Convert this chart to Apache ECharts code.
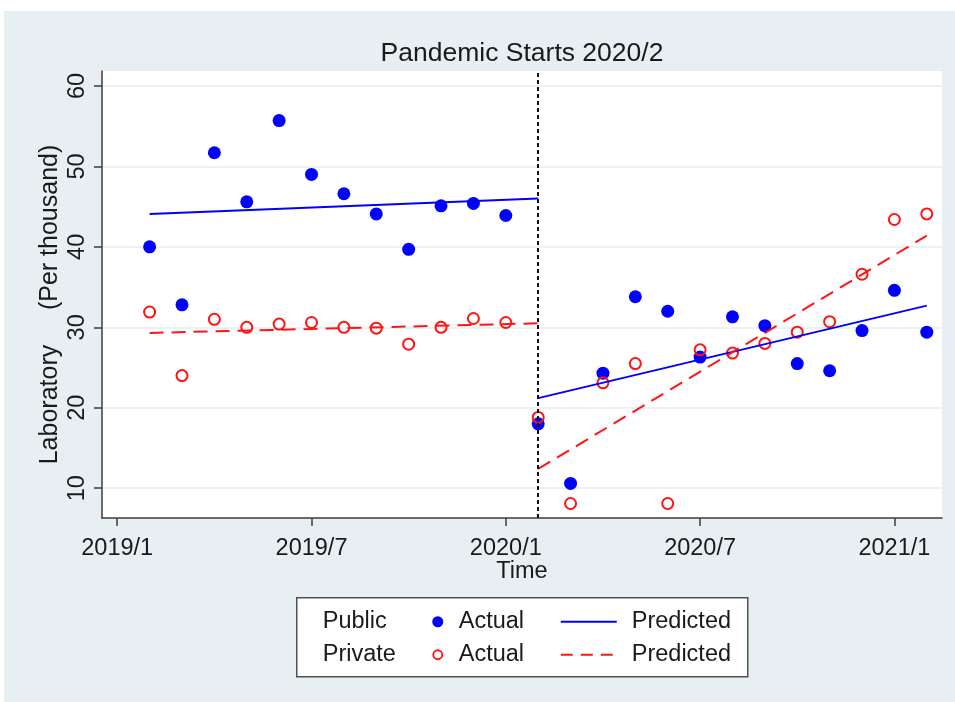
<!DOCTYPE html>
<html>
<head>
<meta charset="utf-8">
<title>Pandemic Starts 2020/2</title>
<script src="https://cdn.jsdelivr.net/npm/echarts@6/dist/echarts.min.js"></script>
<style>
  html, body { margin: 0; padding: 0; background: #fff; }
  #chart { width: 955px; height: 702px; }
</style>
</head>
<body>
<div id="chart"></div>
<script>
// monthly observations, 2019/2 .. 2021/2
const months = [
  "2019/2", "2019/3", "2019/4", "2019/5", "2019/6", "2019/7", "2019/8",
  "2019/9", "2019/10", "2019/11", "2019/12", "2020/1", "2020/2", "2020/3",
  "2020/4", "2020/5", "2020/6", "2020/7", "2020/8", "2020/9", "2020/10",
  "2020/11", "2020/12", "2021/1", "2021/2",
];
const publicActual = [
  40.0, 32.8, 51.7, 45.6, 55.7, 49.0, 46.6, 44.1, 39.7, 45.1, 45.4, 43.9,
  18.0, 10.6, 24.3, 33.8, 32.0, 26.3, 31.3, 30.2, 25.5, 24.6, 29.6, 34.6, 29.4,
];
const privateActual = [
  31.9, 24.0, 31.0, 30.0, 30.4, 30.6, 30.0, 29.9, 27.9, 30.0, 31.1, 30.6,
  18.8, 8.1, 23.1, 25.5, 8.1, 27.2, 26.8, 28.0, 29.4, 30.7, 36.6, 43.4, 44.1,
];

// fitted lines (segment endpoints) before / after the break
const prePeriod = ["2019/2", "2020/2"];
const postPeriod = ["2020/2", "2021/2"];
const publicPredPre = [44.1, 46.0];
const publicPredPost = [21.2, 32.7];
const privatePredPre = [29.3, 30.5];
const privatePredPost = [12.4, 41.4];

const pandemicStart = "2020/2";
const xTicks = ["2019/1", "2019/7", "2020/1", "2020/7", "2021/1"];
const yTicks = [10, 20, 30, 40, 50, 60];

const FONT = "'Liberation Sans', Arial, sans-serif";
const BLUE = "#0000ff";
const RED = "#ff1414";
const INK = "#1a1a1a";

// months counted from 2019/1
const monthIndex = (s) => {
  const [y, m] = s.split("/").map(Number);
  return (y - 2019) * 12 + (m - 1);
};
const pairs = (labels, values) => labels.map((l, i) => [monthIndex(l), values[i]]);
const tickLabel = {};
xTicks.forEach((t) => { tickLabel[monthIndex(t)] = t; });

const chartDom = document.getElementById("chart");
const myChart = echarts.init(chartDom);

const lineSeries = (name, labels, values, color, type) => ({
  name,
  type: "line",
  data: pairs(labels, values),
  showSymbol: false,
  symbol: "none",
  lineStyle: { color, width: 2, type },
  z: 4,
  silent: true,
});

const legendText = (x, y, text) => ({
  type: "text",
  x,
  y,
  style: { text, font: "23.5px " + FONT, fill: INK, textVerticalAlign: "middle" },
});

const option = {
  animation: false,
  textStyle: { fontFamily: FONT },
  graphic: [
    {
      type: "rect",
      z: -10,
      silent: true,
      shape: { x: 4, y: 11, width: 951, height: 691 },
      style: { fill: "#e8eff2" },
    },
    {
      type: "group",
      left: 296,
      top: 597,
      children: [
        {
          type: "rect",
          shape: { x: 0, y: 0, width: 451, height: 79 },
          style: { fill: "#fff", stroke: "#505050", lineWidth: 1.5 },
        },
        legendText(26, 24, "Public"),
        legendText(26, 57, "Private"),
        { type: "circle", shape: { cx: 141, cy: 24, r: 5.5 }, style: { fill: BLUE } },
        { type: "circle", shape: { cx: 141, cy: 57, r: 4.5 }, style: { fill: "none", stroke: RED, lineWidth: 1.8 } },
        legendText(162, 24, "Actual"),
        legendText(162, 57, "Actual"),
        { type: "line", shape: { x1: 264, y1: 24, x2: 320, y2: 24 }, style: { stroke: BLUE, lineWidth: 2 } },
        { type: "line", shape: { x1: 264, y1: 57, x2: 320, y2: 57 }, style: { stroke: RED, lineWidth: 2, lineDash: [12, 8] } },
        legendText(335, 24, "Predicted"),
        legendText(335, 57, "Predicted"),
      ],
    },
  ],
  title: {
    text: "Pandemic Starts 2020/2",
    left: 522,
    top: 40,
    padding: 0,
    textAlign: "center",
    textStyle: { fontFamily: FONT, fontSize: 26.5, fontWeight: "normal", color: INK },
  },
  grid: {
    left: 102,
    top: 71,
    right: 13,
    bottom: 184,
    show: true,
    backgroundColor: "#fff",
    borderWidth: 0,
  },
  xAxis: {
    type: "value",
    min: -0.47,
    max: 25.47,
    name: "Time",
    nameLocation: "middle",
    nameGap: 42,
    nameMoveOverlap: false,
    nameTextStyle: { fontFamily: FONT, fontSize: 23.5, color: INK },
    axisLine: { show: true, onZero: false, lineStyle: { color: "#3c3c3c", width: 1.5 } },
    axisTick: {
      show: true,
      length: 8,
      customValues: xTicks.map(monthIndex),
      lineStyle: { color: "#3c3c3c", width: 1.5 },
    },
    axisLabel: {
      customValues: xTicks.map(monthIndex),
      formatter: (v) => tickLabel[v] || "",
      margin: 19,
      fontFamily: FONT,
      fontSize: 23.5,
      color: INK,
    },
    splitLine: { show: false },
  },
  yAxis: {
    type: "value",
    min: 6.3,
    max: 61.86,
    name: "Laboratory     (Per thousand)",
    nameLocation: "middle",
    nameRotate: 90,
    nameGap: 39,
    nameMoveOverlap: false,
    nameTextStyle: { fontFamily: FONT, fontSize: 25, color: INK, padding: [0, 20, 0, 0] },
    axisLine: { show: true, onZero: false, lineStyle: { color: "#3c3c3c", width: 1.5 } },
    axisTick: {
      show: true,
      length: 8,
      customValues: yTicks,
      lineStyle: { color: "#3c3c3c", width: 1.5 },
    },
    axisLabel: {
      customValues: yTicks,
      rotate: 90,
      margin: 12,
      fontFamily: FONT,
      fontSize: 23.5,
      color: INK,
    },
    splitLine: { show: true, lineStyle: { color: "#e6eef1", width: 1.5 } },
  },
  series: [
    {
      name: "Public Actual",
      type: "scatter",
      data: pairs(months, publicActual),
      symbol: "circle",
      symbolSize: 13,
      itemStyle: { color: BLUE, opacity: 1 },
      z: 3,
      markLine: {
        silent: true,
        symbol: "none",
        label: { show: false },
        lineStyle: { color: "#111", width: 2, type: [4, 3] },
        data: [{ xAxis: monthIndex(pandemicStart) }],
      },
    },
    {
      name: "Private Actual",
      type: "scatter",
      data: pairs(months, privateActual),
      symbol: "circle",
      symbolSize: 11,
      itemStyle: { color: "rgba(0,0,0,0)", borderColor: RED, borderWidth: 2, opacity: 1 },
      z: 3,
    },
    lineSeries("Public Predicted", prePeriod, publicPredPre, BLUE, "solid"),
    lineSeries("Public Predicted", postPeriod, publicPredPost, BLUE, "solid"),
    lineSeries("Private Predicted", prePeriod, privatePredPre, RED, [14, 8]),
    lineSeries("Private Predicted", postPeriod, privatePredPost, RED, [14, 8]),
  ],
};

myChart.setOption(option);
</script>
</body>
</html>
